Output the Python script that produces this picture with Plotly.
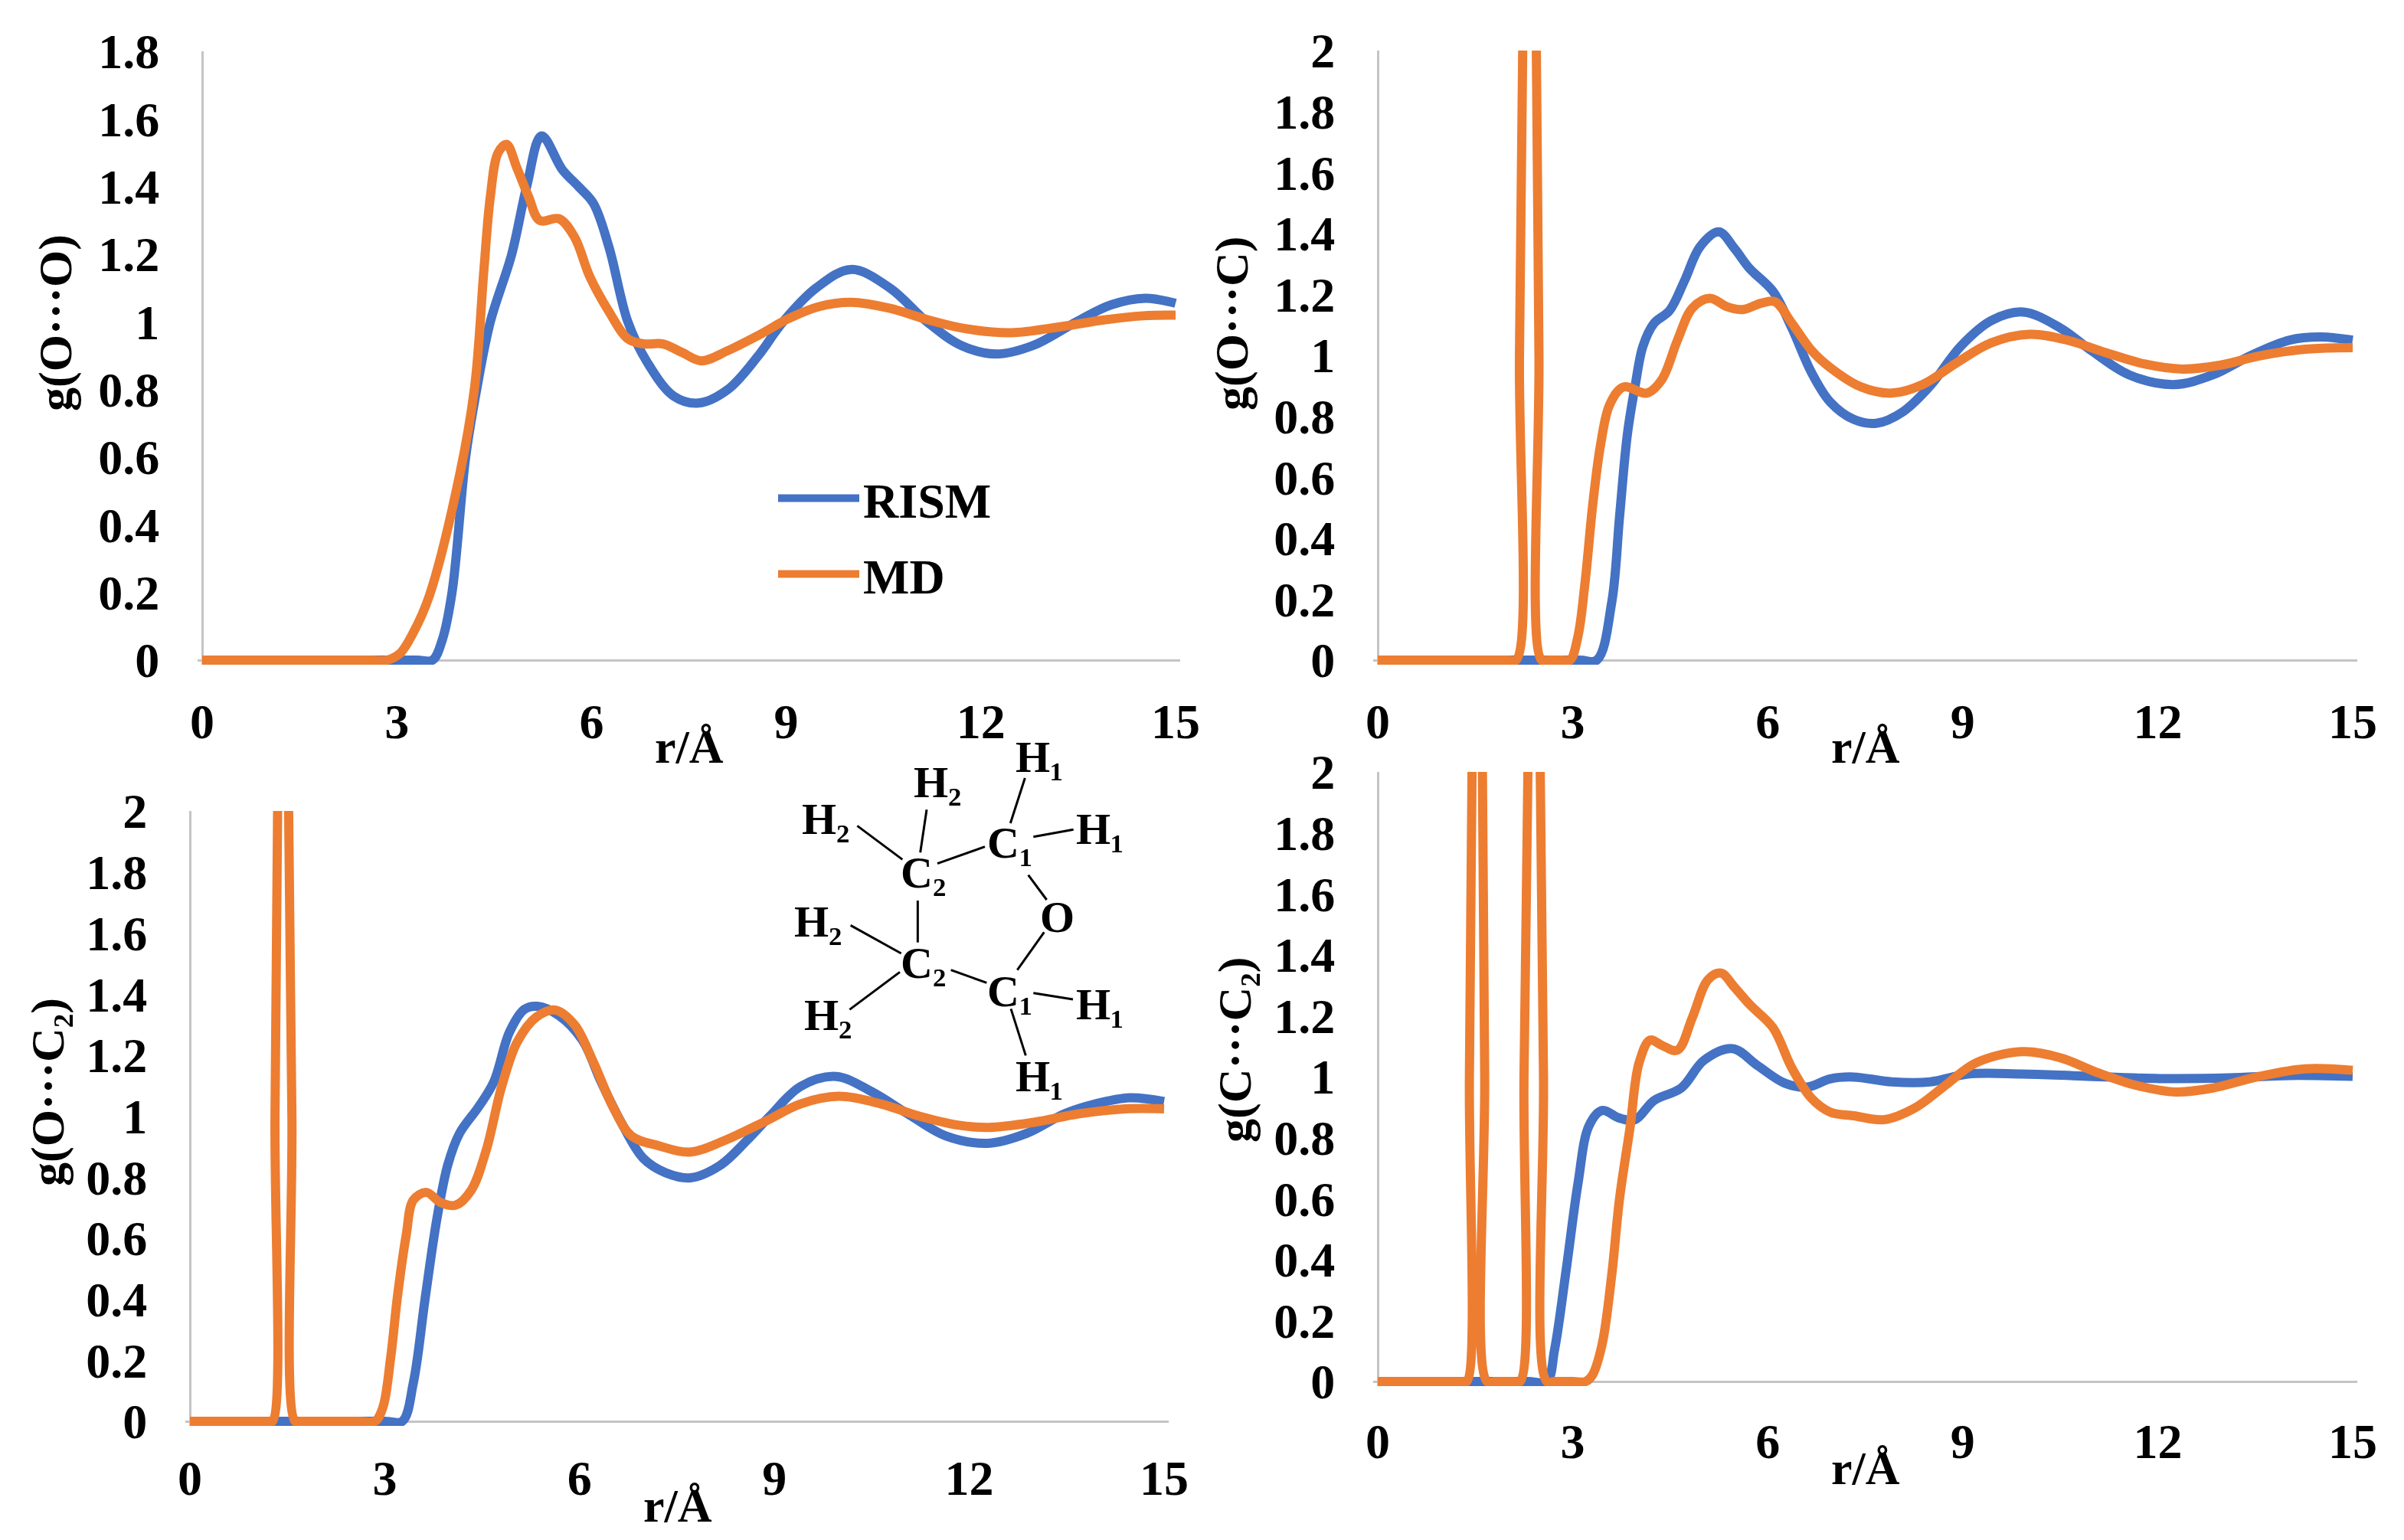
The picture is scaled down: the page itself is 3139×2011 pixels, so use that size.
import plotly.graph_objects as go

W, H = 3139, 2011

# g(O...O)
r_oo_rism = [0, 3.3, 3.55, 3.7, 3.85, 4.06, 4.23, 4.44, 4.77, 5.0, 5.23, 5.55, 5.8, 6.03, 6.27, 6.56, 6.86, 7.27, 7.65, 8.1, 8.57, 8.95, 9.46, 10.0, 10.6, 11.17, 11.7, 12.23, 12.8, 13.47, 14.0, 14.53, 15]
g_oo_rism = [0, 0, 0, 0.06, 0.2, 0.6, 0.8, 1.0, 1.2, 1.4, 1.55, 1.45, 1.40, 1.35, 1.22, 1.0, 0.88, 0.78, 0.76, 0.8, 0.9, 1.0, 1.1, 1.155, 1.1, 1.0, 0.93, 0.905, 0.93, 1.0, 1.05, 1.07, 1.055]
r_oo_md = [0, 2.6, 2.85, 3.05, 3.25, 3.5, 3.97, 4.2, 4.34, 4.44, 4.56, 4.69, 4.85, 5.03, 5.2, 5.5, 5.74, 5.97, 6.27, 6.56, 6.8, 7.1, 7.39, 7.69, 8.1, 8.57, 9.04, 9.5, 10.0, 10.6, 11.17, 11.76, 12.47, 13.2, 13.9, 14.5, 15]
g_oo_md = [0, 0, 0, 0.02, 0.08, 0.19, 0.55, 0.81, 1.15, 1.37, 1.5, 1.525, 1.455, 1.37, 1.30, 1.305, 1.25, 1.135, 1.03, 0.95, 0.935, 0.935, 0.91, 0.885, 0.915, 0.96, 1.01, 1.045, 1.058, 1.04, 1.007, 0.98, 0.968, 0.985, 1.006, 1.018, 1.02]

# g(O...C)
r_oc_rism = [0, 3.1, 3.37, 3.6, 3.72, 3.84, 3.96, 4.08, 4.25, 4.49, 4.72, 4.96, 5.25, 5.49, 5.72, 6.08, 6.37, 6.67, 6.96, 7.32, 7.67, 8.08, 8.5, 8.97, 9.44, 9.93, 10.5, 10.97, 11.56, 12.24, 12.85, 13.44, 14.03, 14.5, 15]
g_oc_rism = [0, 0, 0, 0.19, 0.47, 0.74, 0.90, 1.03, 1.105, 1.147, 1.245, 1.357, 1.405, 1.35, 1.285, 1.21, 1.09, 0.945, 0.847, 0.79, 0.777, 0.815, 0.90, 1.03, 1.114, 1.142, 1.09, 1.017, 0.936, 0.904, 0.936, 1.0, 1.05, 1.06, 1.05]
r_oc_md = [0, 2.0, 2.13, 2.18, 2.23, 2.28, 2.33, 2.39, 2.44, 2.48, 2.52, 2.62, 2.85, 2.96, 3.08, 3.19, 3.31, 3.43, 3.57, 3.78, 4.14, 4.37, 4.61, 4.84, 5.11, 5.37, 5.61, 5.9, 6.11, 6.37, 6.67, 6.96, 7.44, 7.91, 8.38, 8.91, 9.44, 10.03, 10.62, 11.2, 11.79, 12.38, 12.97, 13.56, 14.27, 15]
g_oc_md = [0, 0, 0, 1.0, 2.0, 3.0, 3.4, 3.0, 2.0, 1.0, 0, 0, 0, 0, 0.078, 0.256, 0.515, 0.709, 0.839, 0.896, 0.876, 0.92, 1.049, 1.155, 1.187, 1.16, 1.15, 1.171, 1.176, 1.106, 1.017, 0.96, 0.896, 0.876, 0.904, 0.976, 1.041, 1.069, 1.049, 1.009, 0.972, 0.955, 0.968, 0.998, 1.02, 1.025]

# g(O...C2)
r_oc2_rism = [0, 3.0, 3.27, 3.44, 3.62, 3.8, 3.97, 4.15, 4.45, 4.68, 4.92, 5.15, 5.35, 5.68, 6.04, 6.33, 6.63, 6.98, 7.33, 7.71, 8.16, 8.57, 8.93, 9.4, 9.95, 10.5, 11.05, 11.64, 12.29, 12.88, 13.47, 13.94, 14.47, 15]
g_oc2_rism = [0, 0, 0, 0.126, 0.40, 0.66, 0.84, 0.943, 1.032, 1.113, 1.275, 1.35, 1.36, 1.33, 1.25, 1.113, 0.984, 0.862, 0.814, 0.798, 0.838, 0.919, 1.0, 1.097, 1.13, 1.08, 1.008, 0.935, 0.911, 0.943, 1.008, 1.04, 1.06, 1.048]
r_oc2_md = [0, 1.2, 1.27, 1.31, 1.35, 1.39, 1.435, 1.48, 1.52, 1.57, 1.62, 1.7, 2.6, 2.85, 2.97, 3.09, 3.2, 3.33, 3.44, 3.64, 3.86, 4.09, 4.33, 4.56, 4.8, 5.04, 5.33, 5.62, 5.92, 6.21, 6.51, 6.8, 7.22, 7.69, 8.22, 8.87, 9.4, 9.99, 10.64, 11.23, 11.82, 12.29, 13.0, 13.7, 14.4, 15]
g_oc2_md = [0, 0, 0, 1.0, 2.0, 3.0, 3.4, 3.0, 2.0, 1.0, 0, 0, 0, 0, 0.045, 0.207, 0.417, 0.61, 0.725, 0.75, 0.717, 0.708, 0.757, 0.887, 1.097, 1.243, 1.324, 1.348, 1.30, 1.178, 1.032, 0.935, 0.903, 0.882, 0.919, 0.984, 1.04, 1.065, 1.04, 1.0, 0.971, 0.963, 0.98, 1.008, 1.024, 1.024]

# g(C...C2)
r_cc2_rism = [0, 2.3, 2.6, 2.72, 2.9, 3.08, 3.25, 3.45, 3.72, 3.96, 4.25, 4.67, 5.02, 5.46, 5.84, 6.26, 6.61, 6.96, 7.32, 7.91, 8.5, 9.08, 9.91, 10.85, 12.03, 13.09, 14.03, 15]
g_cc2_rism = [0, 0, 0, 0.104, 0.368, 0.649, 0.839, 0.889, 0.864, 0.859, 0.922, 0.963, 1.054, 1.092, 1.037, 0.979, 0.966, 0.993, 0.999, 0.983, 0.983, 1.009, 1.009, 1.002, 0.994, 0.996, 1.004, 1.001]
r_cc2_md = [0, 1.3, 1.37, 1.41, 1.45, 1.49, 1.53, 1.57, 1.61, 1.645, 1.68, 1.8, 2.1, 2.19, 2.25, 2.31, 2.36, 2.405, 2.45, 2.5, 2.55, 2.6, 2.72, 3.0, 3.2, 3.3, 3.45, 3.6, 3.72, 3.88, 4.02, 4.19, 4.37, 4.61, 4.84, 5.08, 5.28, 5.49, 5.73, 6.08, 6.37, 6.67, 6.96, 7.32, 7.79, 8.26, 8.73, 9.2, 9.91, 10.5, 11.09, 11.68, 12.27, 12.85, 13.56, 14.27, 15]
g_cc2_md = [0, 0, 0, 1.0, 2.0, 3.0, 3.4, 3.0, 2.0, 1.0, 0, 0, 0, 0, 1.0, 2.0, 3.0, 3.4, 3.0, 2.0, 1.0, 0, 0, 0, 0, 0.02, 0.12, 0.35, 0.6, 0.831, 1.045, 1.12, 1.103, 1.087, 1.194, 1.318, 1.34, 1.293, 1.235, 1.161, 1.029, 0.93, 0.884, 0.872, 0.859, 0.897, 0.971, 1.045, 1.082, 1.062, 1.012, 0.971, 0.95, 0.963, 1.001, 1.026, 1.021]

x_ticks = [0, 3, 6, 9, 12, 15]
x_labels = ["0", "3", "6", "9", "12", "15"]
y_ticks_18 = [0, 0.2, 0.4, 0.6, 0.8, 1, 1.2, 1.4, 1.6, 1.8]
y_labels_18 = ["0", "0.2", "0.4", "0.6", "0.8", "1", "1.2", "1.4", "1.6", "1.8"]
y_ticks_2 = y_ticks_18 + [2]
y_labels_2 = y_labels_18 + ["2"]

BLUE = "#4472C4"
ORANGE = "#ED7D31"
GREY = "#C4C4C4"
SERIF = "Liberation Serif"
FS = 62
TICK_FS = 64


def px(x):
    return x / W


def py(y):
    return 1 - y / H


fig = go.Figure()


def add_panel(n, box, top, yt, yl, rism, md, xgap, legend=False):
    """One g(r) panel; box is x0, x15, y(top), y(0) in page pixels."""
    x0, x15, ytop, y0 = box
    pad = 6
    xpad = pad * 15 / (x15 - x0)
    ypad = pad * top / (y0 - ytop)
    sfx = "" if n == 1 else str(n)
    fig.add_trace(go.Scatter(x=rism[0], y=rism[1], name="RISM", mode="lines",
                             xaxis="x" + sfx, yaxis="y" + sfx, showlegend=legend,
                             line=dict(color=BLUE, width=12, shape="spline", smoothing=1.0)))
    fig.add_trace(go.Scatter(x=md[0], y=md[1], name="MD", mode="lines",
                             xaxis="x" + sfx, yaxis="y" + sfx, showlegend=legend,
                             legend="legend2" if legend else "legend",
                             line=dict(color=ORANGE, width=12, shape="spline", smoothing=1.0)))
    tick = dict(family=SERIF, size=TICK_FS, color="black", weight="bold")
    fig.update_layout({
        "xaxis" + sfx: dict(domain=[px(x0 - pad), px(x15 + pad)], range=[-xpad, 15 + xpad],
                            anchor="y" + sfx, tickvals=x_ticks, ticktext=x_labels, automargin=False,
                            tickfont=tick, ticks="outside", ticklen=xgap, tickcolor="rgba(0,0,0,0)",
                            showgrid=False, zeroline=True, zerolinecolor=GREY, zerolinewidth=3),
        "yaxis" + sfx: dict(domain=[py(y0 + pad), py(ytop)], range=[-ypad, top],
                            anchor="x" + sfx, tickvals=yt, ticktext=yl, automargin=False,
                            tickfont=tick, ticks="outside", ticklen=36, tickcolor="rgba(0,0,0,0)",
                            showgrid=False, zeroline=True, zerolinecolor=GREY, zerolinewidth=3),
    })


add_panel(1, (264, 1535, 67, 862), 1.8, y_ticks_18, y_labels_18, (r_oo_rism, g_oo_rism), (r_oo_md, g_oo_md), 18, legend=True)
add_panel(2, (1799, 3072, 66, 862), 2, y_ticks_2, y_labels_2, (r_oc_rism, g_oc_rism), (r_oc_md, g_oc_md), 18)
add_panel(3, (248, 1520, 1059, 1856), 2, y_ticks_2, y_labels_2, (r_oc2_rism, g_oc2_rism), (r_oc2_md, g_oc2_md), 12)
add_panel(4, (1799, 3072, 1008, 1804), 2, y_ticks_2, y_labels_2, (r_cc2_rism, g_cc2_rism), (r_cc2_md, g_cc2_md), 16)

annotations = []


def label(text, x, y, size=FS, angle=0, anchor="center"):
    annotations.append(dict(text="<b>" + text + "</b>", x=px(x), y=py(y), xref="paper", yref="paper",
                            showarrow=False, textangle=angle, xanchor=anchor, yanchor="middle",
                            font=dict(family=SERIF, size=size, color="black")))


# axis titles
label("g(O\u00b7\u00b7\u00b7O)", 72, 422, angle=-90)
label("g(O\u00b7\u00b7\u00b7C)", 1608, 422, angle=-90)
label("g(O\u00b7\u00b7\u00b7C\u2082)", 62, 1426, angle=-90)
label("g(C\u00b7\u00b7\u00b7C\u2082)", 1612, 1371, angle=-90)
label("r/\u00c5", 900, 975)
label("r/\u00c5", 2436, 975)
label("r/\u00c5", 885, 1966)
label("r/\u00c5", 2436, 1917)


# molecule sketch, coordinates taken from a 3x crop at (1000, 960)
def mx(z):
    return 1000 + z / 3


def my(z):
    return 960 + z / 3


atoms = [("H\u2081", 985, 135), ("H\u2082", 585, 232), ("H\u2082", 148, 375),
         ("C\u2081", 873, 470), ("H\u2081", 1222, 415), ("C\u2082", 535, 585),
         ("H\u2082", 118, 777), ("O", 1080, 760), ("C\u2082", 535, 940),
         ("C\u2081", 873, 1050), ("H\u2081", 1222, 1103), ("H\u2082", 155, 1145),
         ("H\u2081", 983, 1385)]
for name, zx, zy in atoms:
    label(name, mx(zx) - 4, my(zy) - 16, size=58, anchor="left")

bonds = [(1015, 168, 958, 345), (1205, 370, 1048, 398), (1028, 548, 1100, 645), (858, 437, 672, 503),
         (630, 292, 605, 460), (358, 355, 535, 487), (595, 648, 595, 812), (332, 745, 530, 855),
         (1090, 772, 985, 920), (725, 920, 865, 970), (525, 928, 328, 1075), (1048, 1010, 1203, 1035),
         (960, 1072, 1018, 1255)]
shapes = [dict(type="line", xref="paper", yref="paper", x0=px(mx(a)), y0=py(my(b)), x1=px(mx(c)), y1=py(my(d)),
               line=dict(color="black", width=3)) for a, b, c, d in bonds]

leg_font = dict(family=SERIF, size=64, color="black", weight="bold")
fig.update_layout(
    width=W, height=H, autosize=False,
    margin=dict(l=0, r=0, t=0, b=0),
    paper_bgcolor="white", plot_bgcolor="white",
    annotations=annotations, shapes=shapes,
    legend=dict(x=px(1011), y=py(651), xanchor="left", yanchor="middle", itemwidth=106, font=leg_font,
                bgcolor="rgba(0,0,0,0)"),
    legend2=dict(x=px(1011), y=py(750), xanchor="left", yanchor="middle", itemwidth=106, font=leg_font,
                 bgcolor="rgba(0,0,0,0)"),
)

fig.write_html("out.html", config={"displayModeBar": False}, post_script="document.body.style.margin='0';")
